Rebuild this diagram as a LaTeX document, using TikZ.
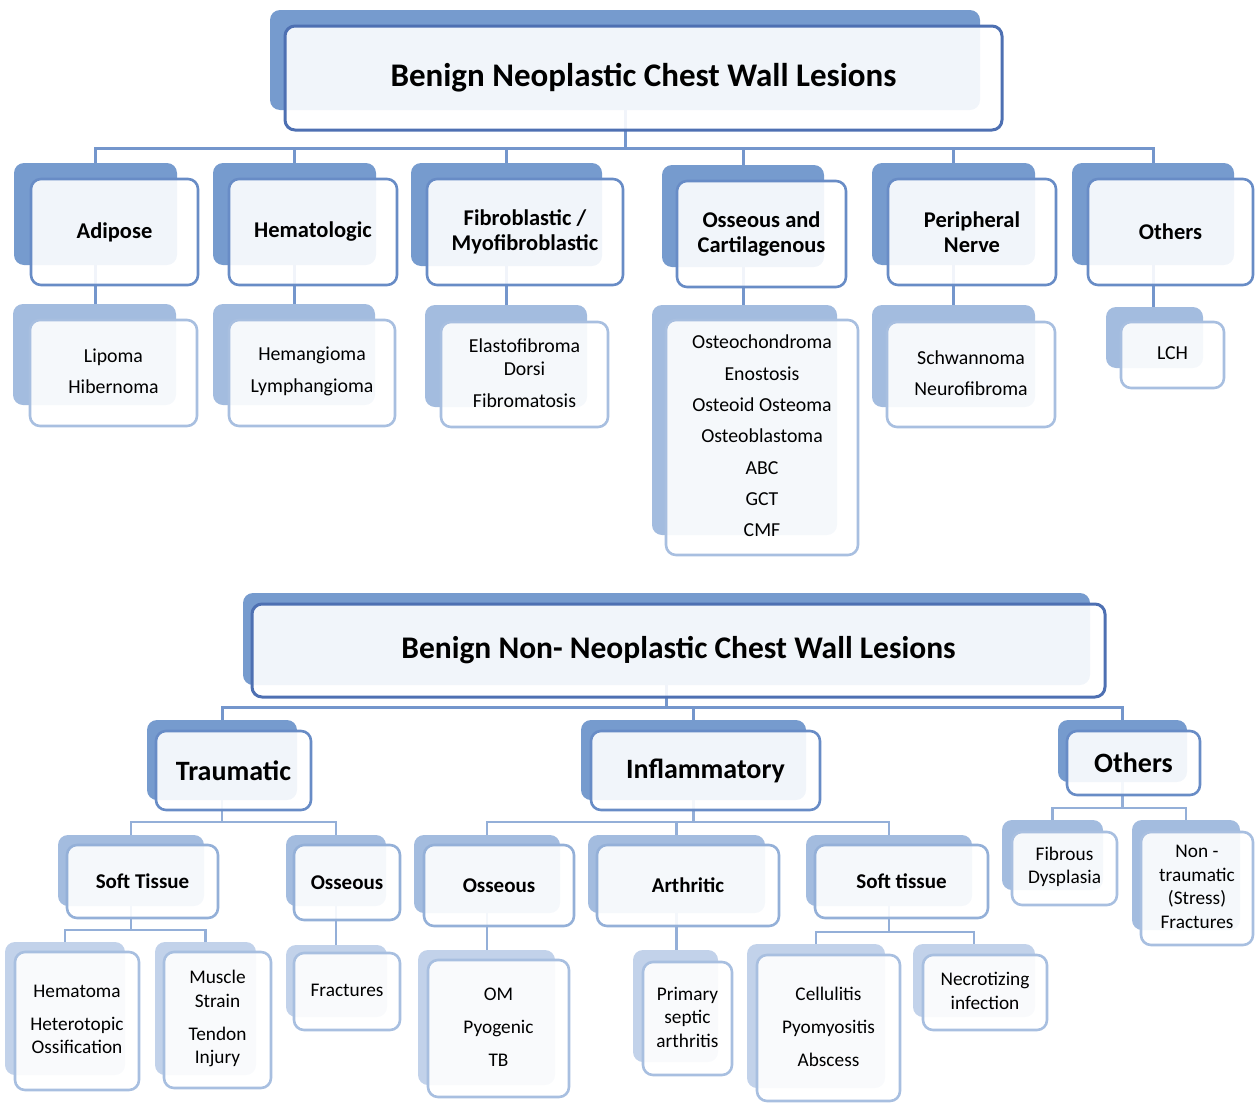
\documentclass[tikz,border=0pt]{standalone}
\usepackage{fontspec}
\setmainfont{Carlito}
\usetikzlibrary{fit}

\pgfdeclarelayer{background}
\pgfdeclarelayer{links}
\pgfsetlayers{background,links,main}

\definecolor{cDark}{RGB}{118,155,206}
\definecolor{cMid}{RGB}{163,188,223}
\definecolor{cLight}{RGB}{194,210,234}
\definecolor{eTitle}{RGB}{78,112,178}
\definecolor{eHead}{RGB}{104,140,198}
\definecolor{eMid}{RGB}{148,176,216}
\definecolor{eLeaf}{RGB}{168,191,224}
\definecolor{lDark}{RGB}{116,150,204}
\definecolor{lMid}{RGB}{148,175,216}

\tikzset{
  back/.style={rounded corners=10pt, inner sep=0pt, outer sep=0pt},
  backdk/.style={back, fill=cDark},
  backmd/.style={back, fill=cMid},
  backlt/.style={back, fill=cLight},
  frame/.style={draw, rounded corners=10pt, fill=white, fill opacity=0.9,
    inner sep=0pt, outer sep=0pt, line width=2.6pt},
  frameT/.style={frame, draw=eTitle, line width=3pt},
  frameH/.style={frame, draw=eHead},
  frameM/.style={frame, draw=eMid},
  frameL/.style={frame, draw=eLeaf},
  txt/.style={align=center, inner sep=0pt},
  ttitle/.style={txt, font=\fontsize{33}{38}\selectfont\bfseries},
  ttitlesm/.style={txt, font=\fontsize{31.5}{36}\selectfont\bfseries},
  thead/.style={txt, font=\fontsize{22.5}{25}\selectfont\bfseries},
  tbig/.style={txt, font=\fontsize{28}{32}\selectfont\bfseries},
  tmid/.style={txt, font=\fontsize{21}{24}\selectfont\bfseries},
  tleaf/.style={txt, font=\fontsize{19.8}{31.3}\selectfont, yshift=1.5pt},
  tsmall/.style={txt, font=\fontsize{19.3}{23.5}\selectfont, yshift=1.5pt},
  link/.style={line width=3pt, draw=lDark},
  sublink/.style={line width=2.6pt, draw=lMid}
}

% back plate, framed box, text
\newcommand\wallbox[7]{%
  \begin{pgfonlayer}{background}
    \node[#2, fit={#3}] (#1-b) {};
  \end{pgfonlayer}
  \node[#4, fit={#5}] (#1) {};
  \node[#6] (#1-t) at (#1.center) {#7};
}

\begin{document}
\begin{tikzpicture}[x=1pt,y=-1pt]
  \useasboundingbox (0,0) rectangle (1255,1103);

  % neoplastic
  \wallbox{title}{backdk}{(270,10) (980,110)}{frameT}{(285,26) (1002,130)}{ttitle}{Benign Neoplastic Chest Wall Lesions}
  \wallbox{adipose}{backdk}{(14,163) (177,265)}{frameH}{(31,179) (198,285)}{thead}{Adipose}
  \wallbox{hemat}{backdk}{(213,163) (376,265)}{frameH}{(229,179) (397,285)}{thead}{Hematologic}
  \wallbox{fibro}{backdk}{(411,163) (602,266)}{frameH}{(427,179) (623,285)}{thead}{Fibroblastic /\\Myofibroblastic}
  \wallbox{osseous}{backdk}{(662,165) (824,267)}{frameH}{(677,181) (846,287)}{thead}{Osseous and\\Cartilagenous}
  \wallbox{nerve}{backdk}{(872,163) (1035,265)}{frameH}{(888,179) (1056,285)}{thead}{Peripheral\\Nerve}
  \wallbox{others}{backdk}{(1072,163) (1234,265)}{frameH}{(1088,179) (1253,285)}{thead}{Others}

  \wallbox{lipoma}{backmd}{(13,304) (176,405)}{frameL}{(30,320) (197,426)}{tleaf}{Lipoma\\Hibernoma}
  \wallbox{hemang}{backmd}{(213,304) (375,405)}{frameL}{(229,320) (395,426)}{tleaf}{Hemangioma\\Lymphangioma}
  \wallbox{elasto}{backmd}{(425,305) (587,407)}{frameL}{(441,322) (608,427)}{tleaf}{Elastofibroma\\[-8pt]Dorsi\\Fibromatosis}
  \wallbox{osteo}{backmd}{(652,305) (837,535)}{frameL}{(666,320) (858,555)}{tleaf}{Osteochondroma\\Enostosis\\Osteoid Osteoma\\Osteoblastoma\\ABC\\GCT\\CMF}
  \wallbox{schwann}{backmd}{(872,305) (1035,407)}{frameL}{(887,322) (1055,427)}{tleaf}{Schwannoma\\Neurofibroma}
  \wallbox{lch}{backmd}{(1106,307) (1203,368)}{frameL}{(1121,322) (1224,388)}{tleaf}{LCH}

  % non-neoplastic
  \wallbox{title2}{backdk}{(243,593) (1090,685)}{frameT}{(252,604) (1105,697)}{ttitlesm}{Benign Non- Neoplastic Chest Wall Lesions}
  \wallbox{trauma}{backdk}{(147,720) (297,800)}{frameH}{(156,731) (311,810)}{tbig}{Traumatic}
  \wallbox{inflam}{backdk}{(581,720) (806,800)}{frameH}{(591,731) (820,810)}{tbig}{Inflammatory}
  \wallbox{others2}{backdk}{(1058,720) (1187,782)}{frameH}{(1067,731) (1200,795)}{tbig}{Others}

  \wallbox{softt}{backmd}{(58,835) (204,906)}{frameM}{(67,845) (218,918)}{tmid}{Soft Tissue}
  \wallbox{osst}{backmd}{(286,835) (386,906)}{frameM}{(294,845) (400,920)}{tmid}{Osseous}
  \wallbox{ossi}{backmd}{(414,835) (560,913)}{frameM}{(424,845) (574,926)}{tmid}{Osseous}
  \wallbox{arth}{backmd}{(588,835) (765,913)}{frameM}{(597,845) (779,926)}{tmid}{Arthritic}
  \wallbox{softi}{backmd}{(806,835) (972,906)}{frameM}{(815,845) (988,918)}{tmid}{Soft tissue}

  \wallbox{hema}{backlt}{(5,942) (125,1075)}{frameL}{(15,952) (139,1090)}{tsmall}{Hematoma\\[9.5pt]Heterotopic\\Ossification}
  \wallbox{muscle}{backlt}{(155,942) (256,1075)}{frameL}{(164,952) (271,1088)}{tsmall}{Muscle\\Strain\\[9.5pt]Tendon\\Injury}
  \wallbox{fract}{backlt}{(286,945) (387,1017)}{frameL}{(294,953) (400,1030)}{tsmall}{Fractures}
  \wallbox{om}{backlt}{(418,950) (555,1085)}{frameL}{(428,960) (569,1097)}{tsmall}{OM\\[9.5pt]Pyogenic\\[9.5pt]TB}
  \wallbox{prim}{backlt}{(633,950) (718,1062)}{frameL}{(643,962) (732,1075)}{tsmall}{Primary\\septic\\arthritis}
  \wallbox{cell}{backlt}{(747,944) (885,1088)}{frameL}{(757,955) (900,1101)}{tsmall}{Cellulitis\\[9.5pt]Pyomyositis\\[9.5pt]Abscess}
  \wallbox{necro}{backlt}{(913,944) (1035,1017)}{frameL}{(923,955) (1047,1030)}{tsmall}{Necrotizing\\infection}
  \wallbox{fibrous}{backmd}{(1002,820) (1103,890)}{frameL}{(1012,832) (1117,905)}{tsmall}{Fibrous\\Dysplasia}
  \wallbox{nontr}{backmd}{(1132,820) (1240,930)}{frameL}{(1141,832) (1253,945)}{tsmall}{Non -\\traumatic\\(Stress)\\Fractures}

  \begin{pgfonlayer}{links}
    \coordinate (bus1) at ([yshift=-38pt]title-b.south);
    \draw[link] (title-b.south) -- (bus1);
    \foreach \n in {adipose,hemat,fibro,osseous,nerve,others}
      \draw[link] (bus1) -| (\n-b.north);
    \foreach \a/\b in {adipose/lipoma,hemat/hemang,fibro/elasto,osseous/osteo,nerve/schwann,others/lch}
      \draw[link] (\a-b.south) -- (\a-b.south |- \b-b.north);

    \coordinate (bus2) at ([yshift=-22pt]title2-b.south);
    \draw[link] (title2-b.south) -- (bus2);
    \foreach \n in {trauma,inflam,others2}
      \draw[link] (bus2) -| (\n-b.north);

    \coordinate (bus3) at ([yshift=-22pt]trauma-b.south);
    \draw[sublink] (trauma-b.south) -- (bus3);
    \foreach \n in {softt,osst}
      \draw[sublink] (bus3) -| (\n-b.north);
    \coordinate (bus4) at ([yshift=-22pt]inflam-b.south);
    \draw[sublink] (inflam-b.south) -- (bus4);
    \foreach \n in {ossi,arth,softi}
      \draw[sublink] (bus4) -| (\n-b.north);
    \coordinate (bus5) at ([yshift=-26pt]others2-b.south);
    \draw[sublink] (others2-b.south) -- (bus5);
    \foreach \n in {fibrous,nontr}
      \draw[sublink] (bus5) -| (\n-b.north);

    \coordinate (bus6) at ([yshift=-24pt]softt-b.south);
    \draw[sublink] (softt-b.south) -- (bus6);
    \foreach \n in {hema,muscle}
      \draw[sublink] (bus6) -| (\n-b.north);
    \coordinate (bus7) at ([yshift=-26pt]softi-b.south);
    \draw[sublink] (softi-b.south) -- (bus7);
    \foreach \n in {cell,necro}
      \draw[sublink] (bus7) -| (\n-b.north);
    \foreach \a/\b in {osst/fract,ossi/om,arth/prim}
      \draw[sublink] (\a-b.south) -- (\a-b.south |- \b-b.north);
  \end{pgfonlayer}
\end{tikzpicture}
\end{document}
